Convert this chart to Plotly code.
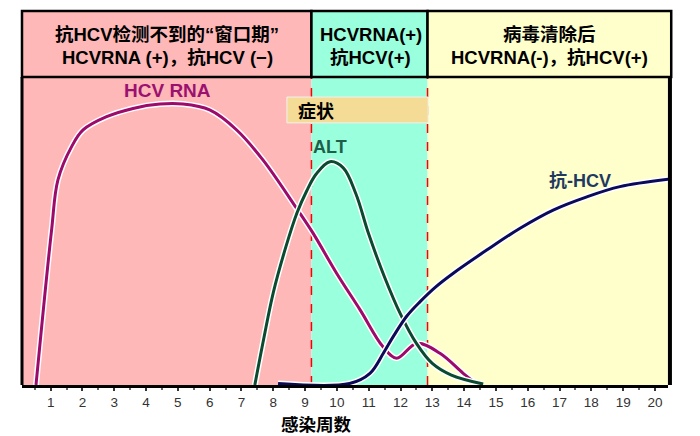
import plotly.graph_objects as go

# ---------------- data ----------------
rna_x = [0.54, 1.03, 1.23, 1.66, 2.02, 2.76, 3.59, 4.44, 5.16, 6.0, 6.85, 7.68, 8.73, 9.25, 9.99, 10.73, 11.45, 11.88, 12.51, 13.24, 13.97, 14.4]
rna_y = [0.0, 50.3, 66.6, 77.4, 82.8, 87.1, 89.8, 91.2, 91.2, 89.3, 82.8, 73.0, 57.4, 49.3, 36.3, 24.4, 12.4, 8.7, 13.5, 10.3, 3.8, 0.3]

alt_x = [7.42, 7.7, 8.0, 8.4, 8.75, 9.05, 9.35, 9.78, 10.2, 10.6, 11.0, 11.5, 12.0, 12.5, 13.0, 13.6, 14.6]
alt_y = [0.0, 15.0, 30.0, 45.0, 56.0, 63.0, 68.5, 72.5, 70.5, 62.0, 49.0, 35.0, 23.0, 13.5, 7.0, 3.2, 0.3]

anti_x = [8.15, 10.4, 11.04, 11.46, 11.77, 12.2, 12.61, 13.1, 13.66, 14.71, 15.76, 16.8, 17.86, 18.9, 20.42]
anti_y = [0.5, 0.5, 3.8, 10.3, 15.7, 22.4, 27.0, 31.8, 36.3, 43.8, 50.9, 56.8, 61.1, 64.4, 66.8]

phase_bounds = [0.1, 9.2, 12.85, 20.4]
phase_colors = ["#FFB8B8", "#9AFFDD", "#FFFFCC"]
phase_line1 = ["抗HCV检测不到的“窗口期”", "HCVRNA(+)", "病毒清除后"]
phase_line2 = ["HCVRNA (+)，抗HCV (−)", "抗HCV(+)", "HCVRNA(-)，抗HCV(+)"]
tick_vals = list(range(1, 21))
tick_text = [str(v) for v in tick_vals]

symptom_x = [8.43, 12.87]
symptom_y = [85.1, 93.5]

X_RANGE = [0.1, 20.41]
Y_RANGE = [0, 100]

RNA_C = "#9C0A6C"
ALT_C = "#0A4A30"
ANTI_C = "#0A0A58"
FONT = "Liberation Sans, Noto Sans CJK SC"

fig = go.Figure()

# red dashed phase dividers (under the curves)
for b in phase_bounds[1:3]:
    fig.add_trace(go.Scatter(x=[b, b], y=[Y_RANGE[0], Y_RANGE[1]], mode="lines",
                             line=dict(color="#FF0000", width=1.5, dash="dash"), hoverinfo="skip", showlegend=False))

def add_curve(x, y, color):
    fig.add_trace(go.Scatter(x=x, y=y, mode="lines", line=dict(color="white", width=6, shape="spline", smoothing=1.0),
                             hoverinfo="skip", showlegend=False))
    fig.add_trace(go.Scatter(x=x, y=y, mode="lines", line=dict(color=color, width=3, shape="spline", smoothing=1.0),
                             showlegend=False))

add_curve(rna_x, rna_y, RNA_C)
add_curve(alt_x, alt_y, ALT_C)
add_curve(anti_x, anti_y, ANTI_C)

def to_paper(x):
    return (x - X_RANGE[0]) / (X_RANGE[1] - X_RANGE[0])

shapes = []
for i, c in enumerate(phase_colors):
    shapes.append(dict(type="rect", xref="x", yref="y", x0=phase_bounds[i], x1=phase_bounds[i + 1],
                       y0=Y_RANGE[0], y1=Y_RANGE[1], fillcolor=c, line=dict(width=0), layer="below"))
hy0, hy1 = 1.0, 1.0 + 66 / 308
for i, c in enumerate(phase_colors):
    x0 = to_paper(phase_bounds[i]) if i > 0 else 0.0
    x1 = to_paper(phase_bounds[i + 1]) if i < 2 else 1.005
    shapes.append(dict(type="rect", xref="paper", yref="paper", x0=x0, x1=x1, y0=hy0, y1=hy1,
                       fillcolor=c, line=dict(color="black", width=2.5)))
shapes.append(dict(type="rect", xref="x", yref="y", x0=symptom_x[0], x1=symptom_x[1], y0=symptom_y[0], y1=symptom_y[1],
                   fillcolor="#F5DC96", line=dict(color="#F0F0F0", width=1)))
shapes.append(dict(type="line", xref="paper", yref="paper", x0=0, x1=0, y0=0, y1=1, line=dict(color="black", width=3)))
shapes.append(dict(type="line", xref="paper", yref="paper", x0=1.003, x1=1.003, y0=0, y1=1, line=dict(color="black", width=4)))

annotations = []
centers = [0.2245, 0.540, 0.817]
for l1, l2, cx in zip(phase_line1, phase_line2, centers):
    annotations.append(dict(xref="paper", yref="paper", x=cx, y=(385 - 34) / 308, text="<b>" + l1 + "</b>", showarrow=False,
                            font=dict(family=FONT, size=18.5, color="black"), xanchor="center", yanchor="middle"))
    annotations.append(dict(xref="paper", yref="paper", x=cx, y=(385 - 57) / 308, text="<b>" + l2 + "</b>", showarrow=False,
                            font=dict(family=FONT, size=18.5, color="black"), xanchor="center", yanchor="middle"))
annotations += [
    dict(xref="x", yref="y", x=4.69, y=95.5, text="<b>HCV RNA</b>", showarrow=False,
         font=dict(family=FONT, size=19, color="#9B1170")),
    dict(xref="x", yref="y", x=9.78, y=77.3, text="<b>ALT</b>", showarrow=False,
         font=dict(family=FONT, size=18, color="#1E5F4A")),
    dict(xref="x", yref="y", x=17.64, y=66.3, text="<b>抗-HCV</b>", showarrow=False,
         font=dict(family=FONT, size=18, color="#1F3A60")),
    dict(xref="x", yref="y", x=8.72, y=(symptom_y[0] + symptom_y[1]) / 2, text="<b>症状</b>", showarrow=False,
         xanchor="left", font=dict(family="Noto Sans CJK SC", size=18, color="black")),
    dict(xref="paper", yref="paper", x=(316 - 22) / 646, y=(385 - 423) / 308, text="<b>感染周数</b>", showarrow=False,
         xanchor="center", yanchor="middle", borderpad=0, font=dict(family="Noto Sans CJK SC", size=17.5, color="black")),
]

fig.update_layout(
    width=700, height=436,
    margin=dict(l=22, r=32, t=77, b=51),
    paper_bgcolor="white", plot_bgcolor="white",
    shapes=shapes, annotations=annotations,
    showlegend=False,
    xaxis=dict(range=X_RANGE, tickvals=tick_vals, ticktext=tick_text, ticks="outside", ticklen=3, tickwidth=1.5,
               tickcolor="#333", showgrid=False, zeroline=False, showline=True, linecolor="black", linewidth=3,
               tickfont=dict(family="Liberation Sans", size=13.5, color="#333"),
               minor=dict(dtick=0.5, tick0=0, ticks="outside", ticklen=2, tickcolor="#666", showgrid=False)),
    yaxis=dict(range=Y_RANGE, showticklabels=False, ticks="", showgrid=False, zeroline=False, showline=False),
)

fig.write_html("out.html")
